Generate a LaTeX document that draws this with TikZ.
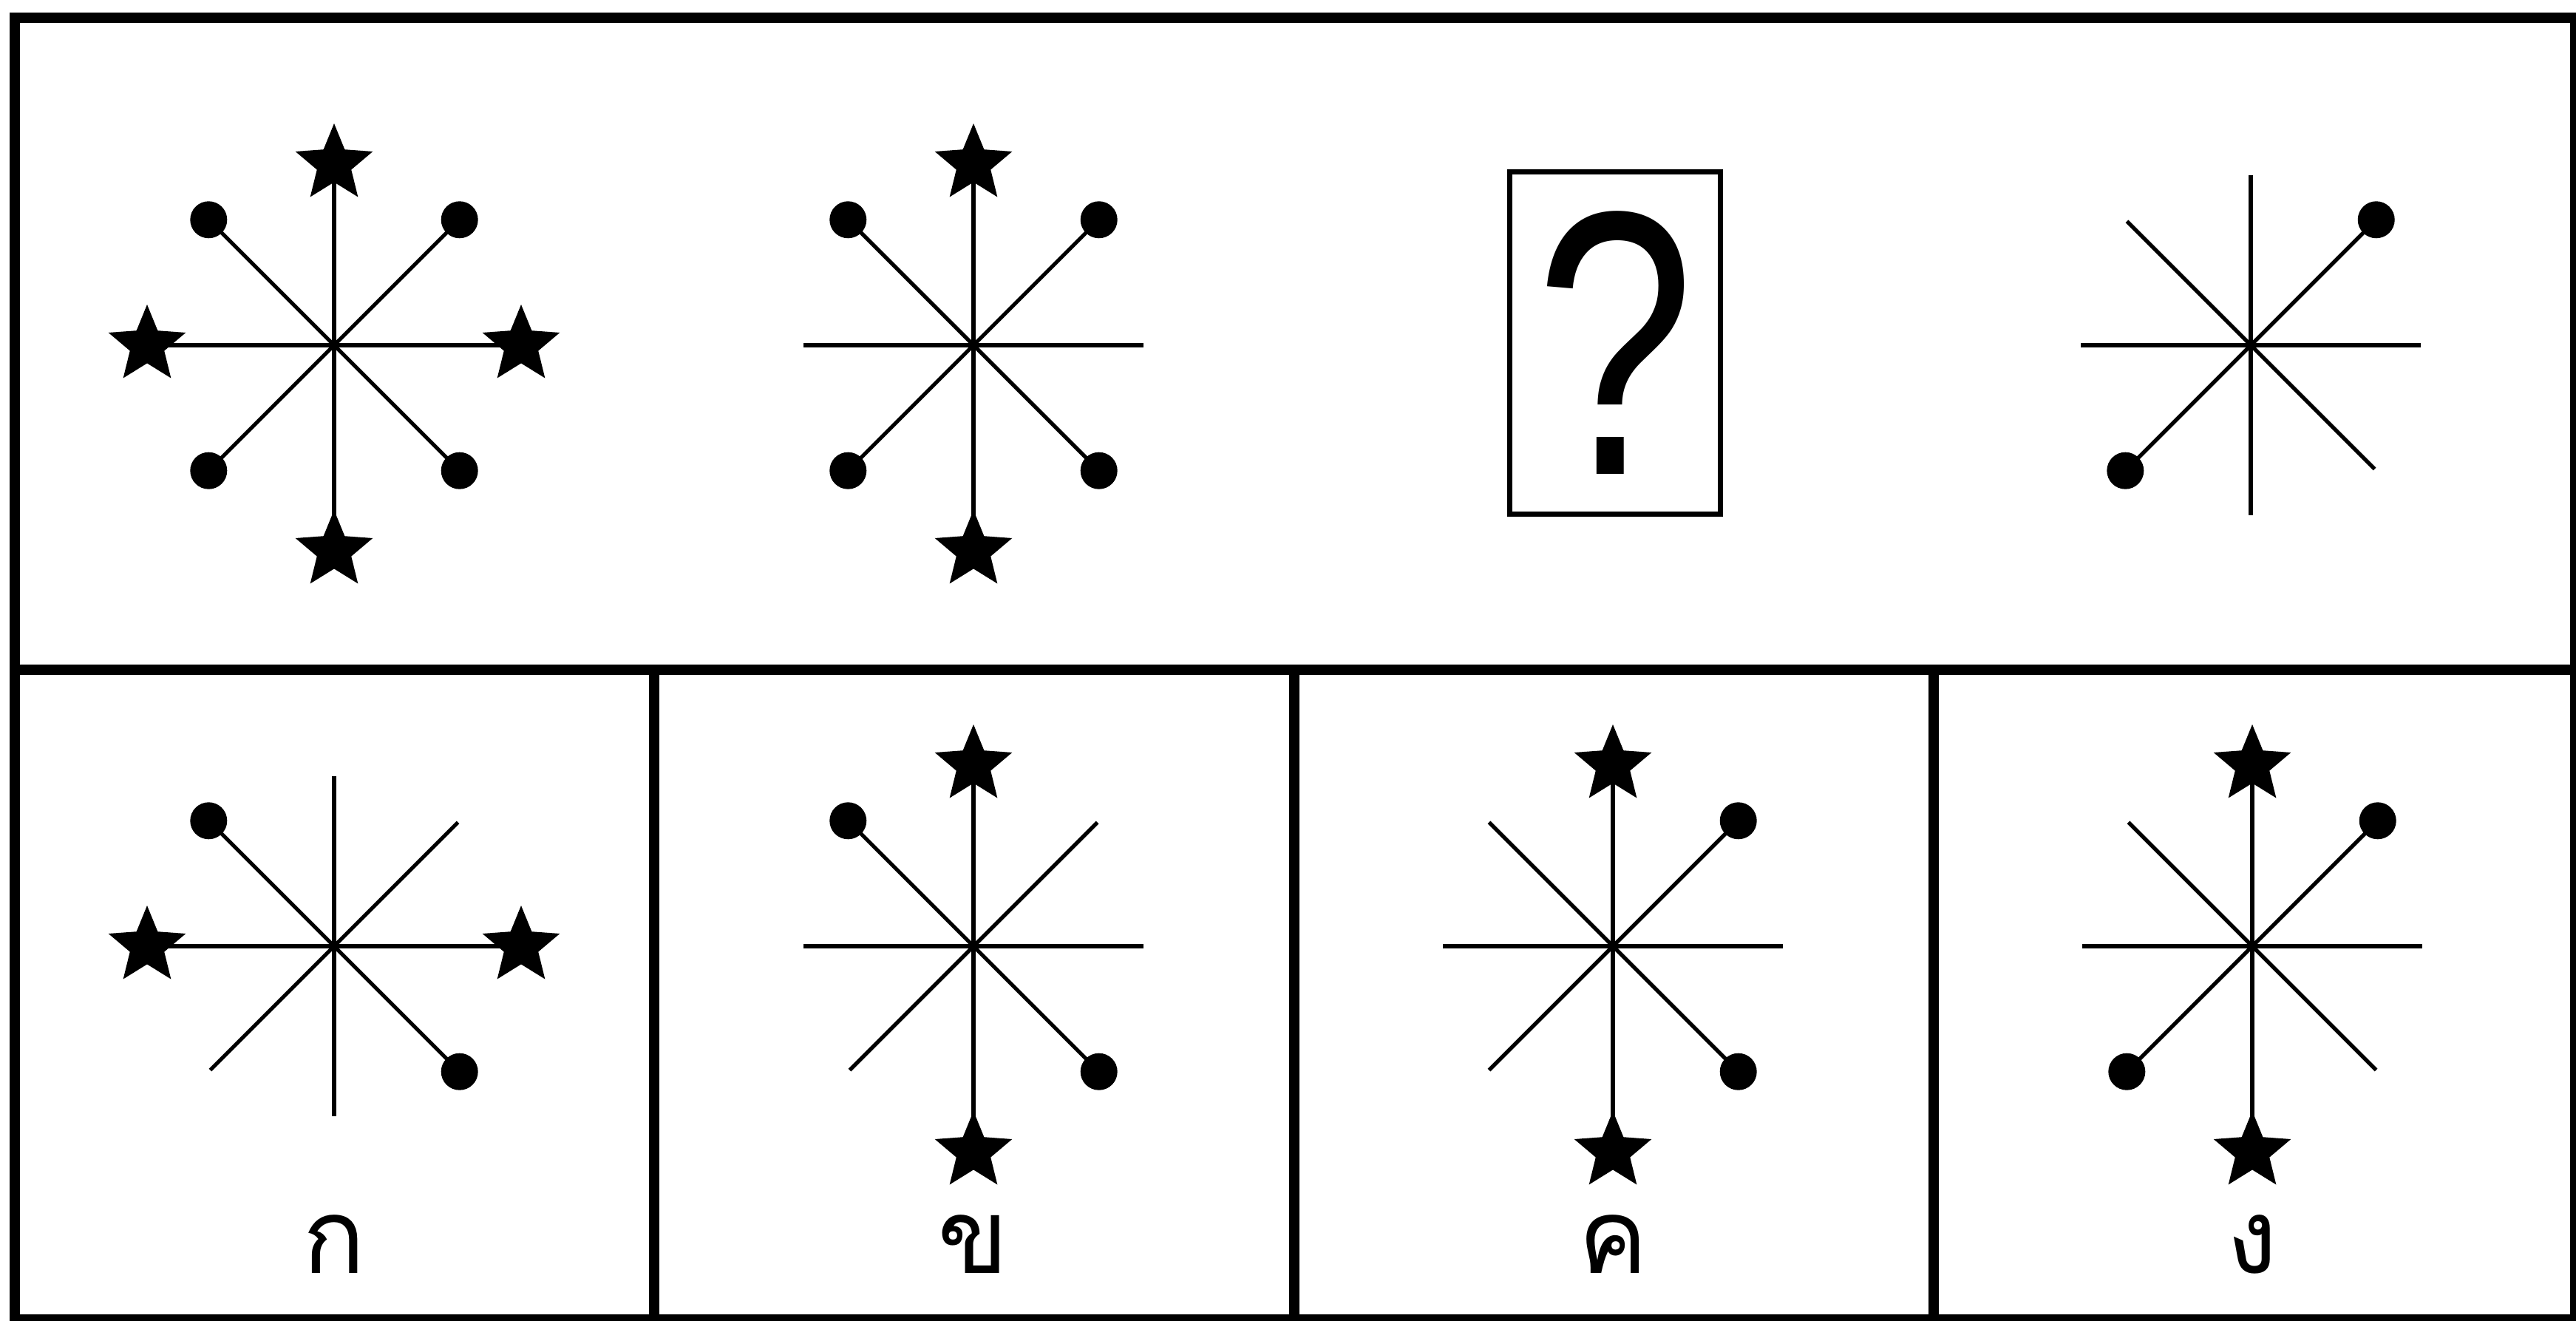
\documentclass[tikz,border=0pt]{standalone}
\usepackage{fontspec}
\usepackage{graphicx}
\usepackage{tikz}
\usetikzlibrary{shapes.geometric}
\newfontfamily\thaifont[Script=Thai]{Loma}
\newfontfamily\qfont{Liberation Sans}

\begin{document}
\begin{tikzpicture}[
  frameline/.style={line width=4pt},
  spoke/.style={line width=1.5pt},
  starend/.style={star,star points=5,star point ratio=2.25,minimum size=1.1cm,inner sep=0pt,fill=black},
  dotend/.style={circle,minimum size=0.5cm,inner sep=0pt,fill=black},
  openend/.style={coordinate},
  choice/.style={font=\thaifont\fontsize{40}{40}\selectfont,anchor=base,inner sep=0pt}]
\useasboundingbox (0,0) rectangle (34.85,17.86);
% frame
\draw[frameline] (0.20,17.62) rectangle (34.84,0.01);
\draw[frameline] (0.20,8.80) -- (34.84,8.80);
\foreach \x in {8.85,17.51,26.16}
  \draw[frameline] (\x,8.80) -- (\x,0.01);

% top row
\coordinate (f1) at (4.52,13.19);
\foreach \d/\k/\p in {n/starend/90:2.45, ne/dotend/45:2.4, e/starend/0:2.53, se/dotend/-45:2.4,
    s/starend/-90:2.78, sw/dotend/-135:2.4, w/starend/180:2.53, nw/dotend/135:2.4} {
  \node[\k] (f1\d) at ([shift={(\p)}]f1) {};
  \draw[spoke] (f1) -- (f1\d.center);
}
\coordinate (f2) at (13.17,13.19);
\foreach \d/\k/\p in {n/starend/90:2.45, ne/dotend/45:2.4, e/openend/0:2.3, se/dotend/-45:2.4,
    s/starend/-90:2.78, sw/dotend/-135:2.4, w/openend/180:2.3, nw/dotend/135:2.4} {
  \node[\k] (f2\d) at ([shift={(\p)}]f2) {};
  \draw[spoke] (f2) -- (f2\d.center);
}
\node[draw,line width=2pt,minimum width=2.85cm,minimum height=4.63cm,inner sep=0pt] (qbox) at (21.85,13.22)
  {\scalebox{0.76}[1]{\qfont\fontsize{145}{145}\selectfont ?}};
\coordinate (f4) at (30.45,13.19);
\foreach \d/\k/\p in {n/openend/90:2.3, ne/dotend/45:2.4, e/openend/0:2.3, se/openend/-45:2.37,
    s/openend/-90:2.3, sw/dotend/-135:2.4, w/openend/180:2.3, nw/openend/135:2.37} {
  \node[\k] (f4\d) at ([shift={(\p)}]f4) {};
  \draw[spoke] (f4) -- (f4\d.center);
}

% answer row
\coordinate (ka) at (4.52,5.06);
\foreach \d/\k/\p in {n/openend/90:2.3, ne/openend/45:2.37, e/starend/0:2.53, se/dotend/-45:2.4,
    s/openend/-90:2.3, sw/openend/-135:2.37, w/starend/180:2.53, nw/dotend/135:2.4} {
  \node[\k] (ka\d) at ([shift={(\p)}]ka) {};
  \draw[spoke] (ka) -- (ka\d.center);
}
\coordinate (kb) at (13.17,5.06);
\foreach \d/\k/\p in {n/starend/90:2.45, ne/openend/45:2.37, e/openend/0:2.3, se/dotend/-45:2.4,
    s/starend/-90:2.78, sw/openend/-135:2.37, w/openend/180:2.3, nw/dotend/135:2.4} {
  \node[\k] (kb\d) at ([shift={(\p)}]kb) {};
  \draw[spoke] (kb) -- (kb\d.center);
}
\coordinate (kc) at (21.82,5.06);
\foreach \d/\k/\p in {n/starend/90:2.45, ne/dotend/45:2.4, e/openend/0:2.3, se/dotend/-45:2.4,
    s/starend/-90:2.78, sw/openend/-135:2.37, w/openend/180:2.3, nw/openend/135:2.37} {
  \node[\k] (kc\d) at ([shift={(\p)}]kc) {};
  \draw[spoke] (kc) -- (kc\d.center);
}
\coordinate (kd) at (30.47,5.06);
\foreach \d/\k/\p in {n/starend/90:2.45, ne/dotend/45:2.4, e/openend/0:2.3, se/openend/-45:2.37,
    s/starend/-90:2.78, sw/dotend/-135:2.4, w/openend/180:2.3, nw/openend/135:2.37} {
  \node[\k] (kd\d) at ([shift={(\p)}]kd) {};
  \draw[spoke] (kd) -- (kd\d.center);
}

% labels
\node[choice] (la) at (4.52,0.64) {ก};
\node[choice] (lb) at (13.17,0.64) {ข};
\node[choice] (lc) at (21.82,0.64) {ค};
\node[choice] (ld) at (30.47,0.64) {ง};
\end{tikzpicture}
\end{document}
